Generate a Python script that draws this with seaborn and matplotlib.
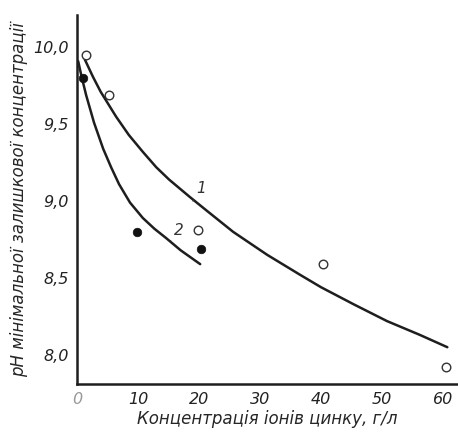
import matplotlib
matplotlib.use('Agg')
import matplotlib.pyplot as plt
import seaborn as sns
import pandas as pd

sns.set_style("white")
plt.rcParams['font.family'] = ['DejaVu Sans']

# -------------------------------Дані
# експериментальні точки, крива 1 (відкриті кружки)
conc_1 = [1.5, 5.2, 19.8, 40.3, 60.5]
ph_1 = [9.95, 9.69, 8.81, 8.59, 7.92]

# експериментальні точки, крива 2 (зафарбовані кружки)
conc_2 = [1.0, 9.8, 20.3]
ph_2 = [9.80, 8.80, 8.69]

# крива 1
curve1_x = [1.3, 2.6, 3.9, 6.4, 8.5, 10.8, 13.0, 15.1, 18.4, 21.2, 25.6, 31.2, 36.6, 40.0, 45.3, 50.8, 56.2, 60.7]
curve1_y = [9.92, 9.81, 9.71, 9.55, 9.43, 9.32, 9.22, 9.14, 9.03, 8.94, 8.80, 8.65, 8.52, 8.44, 8.33, 8.22, 8.13, 8.05]

# крива 2
curve2_x = [0.2, 0.7, 1.5, 2.8, 4.3, 5.6, 6.9, 8.7, 10.8, 12.7, 14.6, 17.0, 20.2]
curve2_y = [9.91, 9.82, 9.69, 9.51, 9.34, 9.22, 9.11, 8.99, 8.89, 8.82, 8.76, 8.68, 8.59]

y_ticks = [8.0, 8.5, 9.0, 9.5, 10.0]
y_labels = ['8,0', '8,5', '9,0', '9,5', '10,0']
x_ticks = [0, 10, 20, 30, 40, 50, 60]
x_labels = ['0', '10', '20', '30', '40', '50', '60']

fig = plt.figure(figsize=(4.58, 4.41), dpi=100)
ax = fig.add_axes([0.168, 0.129, 0.83, 0.837])

df_c1 = pd.DataFrame({'x': curve1_x, 'y': curve1_y})
df_c2 = pd.DataFrame({'x': curve2_x, 'y': curve2_y})
sns.lineplot(data=df_c1, x='x', y='y', color='#1e1e1e', linewidth=1.8, sort=False, ax=ax)
sns.lineplot(data=df_c2, x='x', y='y', color='#1e1e1e', linewidth=1.8, sort=False, ax=ax)

sns.scatterplot(x=conc_1, y=ph_1, marker='o', s=38, facecolor='white',
                edgecolor='#333333', linewidth=1.0, ax=ax, zorder=5)
sns.scatterplot(x=conc_2, y=ph_2, marker='o', s=38, color='#111111',
                edgecolor='#111111', linewidth=0.5, ax=ax, zorder=5)

# Позначки кривих
ax.annotate('1', xy=(19.0, 9.00), xytext=(19.6, 9.03), fontsize=11, style='italic',
            ha='left', va='bottom', color='#333333',
            arrowprops=dict(arrowstyle='-', color='#333333', lw=0.8, shrinkA=0, shrinkB=0))
ax.annotate('2', xy=(15.3, 8.74), xytext=(15.9, 8.76), fontsize=11, style='italic',
            ha='left', va='bottom', color='#333333',
            arrowprops=dict(arrowstyle='-', color='#333333', lw=0.8, shrinkA=0, shrinkB=0))

ax.set_xlim(0, 62.3)
ax.set_ylim(7.81, 10.21)
ax.set_xticks(x_ticks)
ax.set_xticklabels(x_labels, style='italic', fontsize=11.5)
ax.set_yticks(y_ticks)
ax.set_yticklabels(y_labels, style='italic', fontsize=11.5)
ax.tick_params(direction='in', length=5, width=1, colors='#333333', labelcolor='#222222', pad=6)
ax.get_xticklabels()[0].set_color('#999999')

for side in ['top', 'right']:
    ax.spines[side].set_visible(False)
for side in ['left', 'bottom']:
    ax.spines[side].set_color('#1e1e1e')
    ax.spines[side].set_linewidth(1.8)

ax.set_xlabel('Концентрація іонів цинку, г/л', style='italic', fontsize=12, labelpad=2)
ax.set_ylabel('рН мінімальної залишкової концентрації', style='italic', fontsize=12, labelpad=4)

plt.savefig('out.png', dpi=100)
plt.close()
